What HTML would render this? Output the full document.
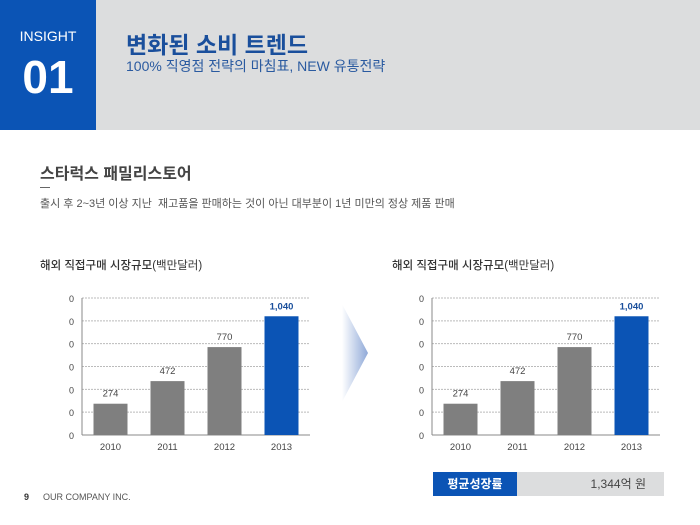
<!DOCTYPE html>
<html><head><meta charset="utf-8"><style>
body{margin:0;width:700px;height:525px;overflow:hidden;background:#fff;font-family:"Liberation Sans","Noto Sans CJK KR",sans-serif;position:relative}
div{position:absolute}
</style></head><body>
<div style="left:0;top:0;width:700px;height:130px;background:#dcddde"></div>
<div style="left:0;top:0;width:96px;height:130px;background:#0b54b5;color:#fff;text-align:center">
 <div style="left:0;width:96px;top:28px;font-size:14px">INSIGHT</div>
 <div style="left:0;width:96px;top:50px;font-size:46px;font-weight:bold">01</div>
</div>
<div style="left:126px;top:26px;font-size:23px;font-weight:bold;color:#1a4f9c">변화된 소비 트렌드</div>
<div style="left:126px;top:56px;font-size:14px;color:#2a5aa0">100% 직영점 전략의 마침표, NEW 유통전략</div>
<div style="left:40px;top:160px;font-size:16px;font-weight:bold;color:#444">스타럭스 패밀리스토어</div>
<div style="left:40px;top:187px;width:10px;height:1px;background:#666"></div>
<div style="left:40px;top:195px;font-size:11px;color:#555">출시 후 2~3년 이상 지난&nbsp; 재고품을 판매하는 것이 아닌 대부분이 1년 미만의 정상 제품 판매</div>
<div style="left:40px;top:257px;font-size:11.5px;color:#333;font-weight:500">해외 직접구매 시장규모<span style="font-weight:normal">(백만달러)</span></div>
<div style="left:392px;top:257px;font-size:11.5px;color:#333;font-weight:500">해외 직접구매 시장규모<span style="font-weight:normal">(백만달러)</span></div>
<svg width="700" height="525" style="position:absolute;left:0;top:0">
<defs><linearGradient id="ag" x1="0" x2="1"><stop offset="0" stop-color="#fff"/><stop offset="1" stop-color="#8fa9d8"/></linearGradient></defs>
<polygon points="342,304 368,353 342,402" fill="url(#ag)"/>
<g id="c0"></g><g id="c1"></g>
</svg>
<div style="left:433px;top:472px;width:84px;height:24px;background:#0b54b5;color:#fff;font-size:12px;font-weight:bold;text-align:center;line-height:24px">평균성장률</div>
<div style="left:517px;top:472px;width:147px;height:24px;background:#dcddde;color:#444;font-size:12px;line-height:24px;text-align:right"><span style="padding-right:18px">1,344억 원</span></div>
<div style="left:24px;top:492px;font-size:9px;color:#333;font-weight:bold">9</div>
<div style="left:43px;top:492px;font-size:9px;color:#555">OUR COMPANY INC.</div>
<script>
const categories=["2010","2011","2012","2013"];
const values=[274,472,770,1040];
const valueLabels=["274","472","770","1,040"];
const tickLabels=["0","0","0","0","0","0","0"];
const yMax=1200;
const NS="http://www.w3.org/2000/svg";
function mk(t,a,p){const e=document.createElementNS(NS,t);for(const k in a)e.setAttribute(k,a[k]);p.appendChild(e);return e;}
[0,350].forEach((dx,ci)=>{
 const g=document.getElementById('c'+ci);
 const x0=82+dx,x1=310+dx,yb=435,yt=298;
 const y=v=>yb-(v/yMax)*(yb-yt);
 const bw=(x1-x0)/categories.length;
 tickLabels.forEach((t,i)=>{
  const yy=yb-i*(yb-yt)/(tickLabels.length-1);
  const l=mk('line',{x1:x0,x2:x1,y1:yy,y2:yy,stroke:i==0?'#888':'#bbb','stroke-dasharray':i==0?'':'2,1'},g);
  
  
  const tx=mk('text',{x:x0-8,y:yy+4,'font-size':9,fill:'#444','text-anchor':'end','font-family':'Liberation Sans'},g);
  tx.textContent=t;
  
  
 });
 mk('line',{x1:x0,x2:x0,y1:yt,y2:yb,stroke:'#888'},g);
 categories.forEach((c,i)=>{
  const cx=x0+bw*(i+0.5),top=y(values[i]);
  const last=i==categories.length-1;
  const r=mk('rect',{x:cx-17,y:top,width:34,height:yb-top,fill:last?'#0b54b5':'#7f7f7f'},g);
  
  
  const vl=mk('text',{x:cx,y:top-7,'font-size':9.5,fill:last?'#1a4f9c':'#444','font-weight':last?'bold':'normal','text-anchor':'middle','font-family':'Liberation Sans'},g);
  vl.textContent=valueLabels[i];
  
  
  const cl=mk('text',{x:cx,y:yb+15,'font-size':9.5,fill:'#444','text-anchor':'middle','font-family':'Liberation Sans'},g);
  cl.textContent=c;
  
  
 });
});
</script>
</body></html>
